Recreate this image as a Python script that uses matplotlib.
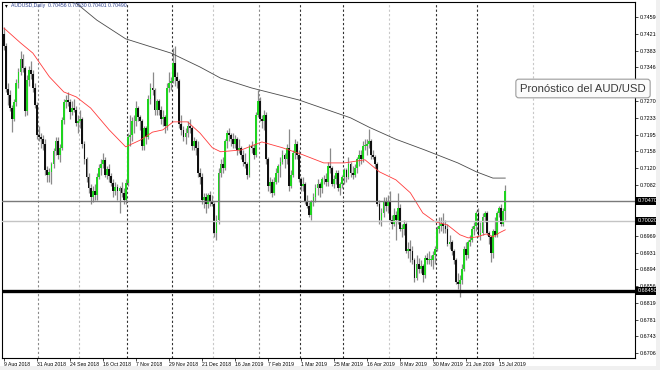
#!/usr/bin/env python3
"""AUD/USD daily candlestick chart (MT4 look) with two moving averages."""

import matplotlib
matplotlib.use("Agg")
import matplotlib.pyplot as plt
import matplotlib.transforms as mtransforms
from matplotlib.patches import Rectangle

plt.rcParams.update({
    "font.family": ["Liberation Sans", "DejaVu Sans"],
    "axes.linewidth": 0.8,
})

# ---- daily bars, 9 Aug 2018 .. 18 Jul 2019 (one entry per trading day) ----
OPENS = [
    0.7420, 0.7393, 0.7298, 0.7285, 0.7255, 0.7230, 0.7268, 0.7310, 0.7335, 0.7365,
    0.7345, 0.7248, 0.7318, 0.7340, 0.7332, 0.7300, 0.7262, 0.7195, 0.7190, 0.7185,
    0.7175, 0.7115, 0.7105, 0.7112, 0.7130, 0.7158, 0.7180, 0.7150, 0.7165, 0.7228,
    0.7268, 0.7272, 0.7268, 0.7245, 0.7255, 0.7250, 0.7222, 0.7225, 0.7230, 0.7175,
    0.7140, 0.7100, 0.7075, 0.7055, 0.7070, 0.7060, 0.7100, 0.7120, 0.7130, 0.7138,
    0.7105, 0.7118, 0.7102, 0.7088, 0.7070, 0.7078, 0.7068, 0.7075, 0.7065, 0.7050,
    0.7088, 0.7190, 0.7195, 0.7225, 0.7225, 0.7255, 0.7235, 0.7225, 0.7170, 0.7210,
    0.7190, 0.7275, 0.7300, 0.7295, 0.7250, 0.7270, 0.7250, 0.7230, 0.7235, 0.7215,
    0.7300, 0.7310, 0.7315, 0.7355, 0.7325, 0.7315, 0.7220, 0.7205, 0.7190, 0.7200,
    0.7215, 0.7210, 0.7170, 0.7180, 0.7165, 0.7110, 0.7100, 0.7050, 0.7055, 0.7040,
    0.7060, 0.7045, 0.7040, 0.6975, 0.7005, 0.7110, 0.7130, 0.7120, 0.7180, 0.7200,
    0.7195, 0.7185, 0.7175, 0.7185, 0.7160, 0.7165, 0.7150, 0.7135, 0.7130, 0.7105,
    0.7170, 0.7165, 0.7150, 0.7240, 0.7270, 0.7230, 0.7225, 0.7240, 0.7140, 0.7080,
    0.7090, 0.7065, 0.7090, 0.7110, 0.7125, 0.7135, 0.7150, 0.7140, 0.7165, 0.7080,
    0.7105, 0.7155, 0.7175, 0.7150, 0.7095, 0.7080, 0.7085, 0.7045, 0.7035, 0.7015,
    0.7045, 0.7055, 0.7075, 0.7085, 0.7075, 0.7095, 0.7095, 0.7090, 0.7125, 0.7120,
    0.7085, 0.7095, 0.7110, 0.7075, 0.7085, 0.7100, 0.7115, 0.7100, 0.7130, 0.7110,
    0.7105, 0.7120, 0.7140, 0.7150, 0.7140, 0.7170, 0.7170, 0.7175, 0.7180, 0.7150,
    0.7145, 0.7130, 0.7040, 0.7005, 0.7020, 0.7045, 0.7035, 0.7045, 0.7005, 0.6995,
    0.7015, 0.7005, 0.7030, 0.6985, 0.6985, 0.6995, 0.6935, 0.6940, 0.6935, 0.6915,
    0.6875, 0.6905, 0.6895, 0.6900, 0.6880, 0.6920, 0.6915, 0.6915, 0.6915, 0.6925,
    0.6940, 0.6985, 0.6990, 0.6995, 0.6990, 0.6985, 0.6950, 0.6955, 0.6935, 0.6915,
    0.6865, 0.6860, 0.6870, 0.6895, 0.6940, 0.6925, 0.6955, 0.6960, 0.6985, 0.6990,
    0.7020, 0.6970, 0.6975, 0.7010, 0.7020, 0.6975, 0.6965, 0.6930, 0.6980, 0.6970,
    0.7020, 0.7030, 0.6995, 0.7025,
]
HIGHS = [
    0.7437, 0.7400, 0.7310, 0.7295, 0.7262, 0.7275, 0.7320, 0.7345, 0.7382, 0.7375,
    0.7350, 0.7330, 0.7350, 0.7360, 0.7340, 0.7310, 0.7268, 0.7215, 0.7200, 0.7195,
    0.7185, 0.7125, 0.7120, 0.7135, 0.7165, 0.7190, 0.7190, 0.7175, 0.7235, 0.7275,
    0.7285, 0.7290, 0.7275, 0.7270, 0.7275, 0.7260, 0.7240, 0.7250, 0.7235, 0.7180,
    0.7145, 0.7110, 0.7085, 0.7080, 0.7085, 0.7110, 0.7130, 0.7140, 0.7155, 0.7145,
    0.7125, 0.7130, 0.7110, 0.7095, 0.7090, 0.7085, 0.7080, 0.7090, 0.7075, 0.7095,
    0.7200, 0.7240, 0.7235, 0.7240, 0.7270, 0.7260, 0.7240, 0.7230, 0.7215, 0.7215,
    0.7285, 0.7310, 0.7335, 0.7300, 0.7275, 0.7275, 0.7260, 0.7250, 0.7240, 0.7310,
    0.7335, 0.7325, 0.7390, 0.7394, 0.7335, 0.7320, 0.7240, 0.7215, 0.7210, 0.7225,
    0.7230, 0.7215, 0.7190, 0.7185, 0.7180, 0.7120, 0.7110, 0.7065, 0.7065, 0.7065,
    0.7070, 0.7060, 0.7045, 0.7015, 0.7120, 0.7140, 0.7145, 0.7185, 0.7205, 0.7210,
    0.7200, 0.7200, 0.7195, 0.7190, 0.7185, 0.7170, 0.7160, 0.7155, 0.7135, 0.7175,
    0.7180, 0.7175, 0.7245, 0.7295, 0.7280, 0.7240, 0.7250, 0.7245, 0.7145, 0.7100,
    0.7095, 0.7100, 0.7120, 0.7130, 0.7145, 0.7160, 0.7155, 0.7175, 0.7207, 0.7115,
    0.7160, 0.7185, 0.7180, 0.7160, 0.7100, 0.7100, 0.7090, 0.7060, 0.7045, 0.7050,
    0.7065, 0.7085, 0.7095, 0.7090, 0.7100, 0.7105, 0.7110, 0.7135, 0.7165, 0.7125,
    0.7105, 0.7115, 0.7115, 0.7090, 0.7105, 0.7120, 0.7120, 0.7145, 0.7135, 0.7125,
    0.7130, 0.7145, 0.7160, 0.7160, 0.7180, 0.7185, 0.7185, 0.7207, 0.7185, 0.7160,
    0.7150, 0.7135, 0.7050, 0.7030, 0.7055, 0.7055, 0.7060, 0.7070, 0.7015, 0.7030,
    0.7025, 0.7065, 0.7040, 0.6995, 0.7005, 0.7000, 0.6955, 0.6960, 0.6945, 0.6920,
    0.6925, 0.6920, 0.6915, 0.6905, 0.6925, 0.6930, 0.6935, 0.6925, 0.6935, 0.6945,
    0.6990, 0.7010, 0.7010, 0.7020, 0.7005, 0.6995, 0.6970, 0.6960, 0.6940, 0.6920,
    0.6885, 0.6880, 0.6905, 0.6945, 0.6955, 0.6960, 0.6970, 0.6990, 0.7000, 0.7025,
    0.7030, 0.7000, 0.7020, 0.7025, 0.7025, 0.6980, 0.6970, 0.6985, 0.7010, 0.7025,
    0.7035, 0.7040, 0.7030, 0.7082,
]
LOWS = [
    0.7385, 0.7292, 0.7262, 0.7248, 0.7202, 0.7225, 0.7260, 0.7300, 0.7330, 0.7335,
    0.7238, 0.7240, 0.7305, 0.7320, 0.7290, 0.7255, 0.7185, 0.7180, 0.7165, 0.7160,
    0.7105, 0.7090, 0.7090, 0.7085, 0.7120, 0.7150, 0.7140, 0.7135, 0.7160, 0.7220,
    0.7255, 0.7260, 0.7230, 0.7240, 0.7245, 0.7215, 0.7200, 0.7210, 0.7165, 0.7130,
    0.7090, 0.7065, 0.7040, 0.7045, 0.7050, 0.7050, 0.7095, 0.7105, 0.7120, 0.7100,
    0.7095, 0.7090, 0.7080, 0.7055, 0.7060, 0.7050, 0.7020, 0.7055, 0.7040, 0.7040,
    0.7080, 0.7170, 0.7180, 0.7200, 0.7215, 0.7225, 0.7205, 0.7160, 0.7160, 0.7175,
    0.7185, 0.7265, 0.7285, 0.7240, 0.7240, 0.7240, 0.7220, 0.7215, 0.7200, 0.7205,
    0.7290, 0.7295, 0.7310, 0.7305, 0.7300, 0.7210, 0.7195, 0.7180, 0.7175, 0.7190,
    0.7200, 0.7160, 0.7160, 0.7150, 0.7100, 0.7085, 0.7040, 0.7030, 0.7020, 0.7030,
    0.7035, 0.7035, 0.6965, 0.6960, 0.6995, 0.7100, 0.7110, 0.7115, 0.7165, 0.7180,
    0.7170, 0.7165, 0.7165, 0.7150, 0.7155, 0.7140, 0.7125, 0.7120, 0.7095, 0.7100,
    0.7155, 0.7140, 0.7145, 0.7235, 0.7225, 0.7210, 0.7205, 0.7130, 0.7070, 0.7065,
    0.7055, 0.7060, 0.7085, 0.7090, 0.7100, 0.7130, 0.7120, 0.7130, 0.7070, 0.7075,
    0.7100, 0.7140, 0.7140, 0.7090, 0.7070, 0.7070, 0.7040, 0.7030, 0.7010, 0.7003,
    0.7035, 0.7045, 0.7060, 0.7055, 0.7065, 0.7085, 0.7080, 0.7080, 0.7110, 0.7080,
    0.7075, 0.7085, 0.7070, 0.7060, 0.7075, 0.7085, 0.7090, 0.7095, 0.7100, 0.7095,
    0.7100, 0.7110, 0.7125, 0.7130, 0.7135, 0.7160, 0.7150, 0.7165, 0.7140, 0.7140,
    0.7120, 0.7035, 0.6995, 0.6990, 0.7010, 0.7025, 0.7020, 0.7000, 0.6985, 0.6990,
    0.6960, 0.6995, 0.6980, 0.6965, 0.6970, 0.6930, 0.6920, 0.6910, 0.6905, 0.6865,
    0.6870, 0.6885, 0.6885, 0.6865, 0.6875, 0.6905, 0.6905, 0.6900, 0.6895, 0.6905,
    0.6935, 0.6975, 0.6980, 0.6975, 0.6975, 0.6945, 0.6940, 0.6925, 0.6905, 0.6860,
    0.6850, 0.6832, 0.6860, 0.6890, 0.6915, 0.6920, 0.6945, 0.6955, 0.6970, 0.6980,
    0.6965, 0.6960, 0.6970, 0.7000, 0.6970, 0.6950, 0.6910, 0.6920, 0.6965, 0.6965,
    0.7010, 0.6990, 0.6990, 0.7005,
]
CLOSES = [
    0.7393, 0.7298, 0.7285, 0.7255, 0.7230, 0.7268, 0.7310, 0.7335, 0.7365, 0.7345,
    0.7248, 0.7318, 0.7340, 0.7332, 0.7300, 0.7262, 0.7195, 0.7190, 0.7185, 0.7175,
    0.7115, 0.7105, 0.7112, 0.7130, 0.7158, 0.7180, 0.7150, 0.7165, 0.7228, 0.7268,
    0.7272, 0.7268, 0.7245, 0.7255, 0.7250, 0.7222, 0.7225, 0.7230, 0.7175, 0.7140,
    0.7100, 0.7075, 0.7055, 0.7070, 0.7060, 0.7100, 0.7120, 0.7130, 0.7138, 0.7105,
    0.7118, 0.7102, 0.7088, 0.7070, 0.7078, 0.7068, 0.7075, 0.7065, 0.7050, 0.7088,
    0.7190, 0.7195, 0.7225, 0.7225, 0.7255, 0.7235, 0.7225, 0.7170, 0.7210, 0.7190,
    0.7275, 0.7300, 0.7295, 0.7250, 0.7270, 0.7250, 0.7230, 0.7235, 0.7215, 0.7300,
    0.7310, 0.7315, 0.7355, 0.7325, 0.7315, 0.7220, 0.7205, 0.7190, 0.7200, 0.7215,
    0.7210, 0.7170, 0.7180, 0.7165, 0.7110, 0.7100, 0.7050, 0.7055, 0.7040, 0.7060,
    0.7045, 0.7040, 0.6975, 0.7005, 0.7110, 0.7130, 0.7120, 0.7180, 0.7200, 0.7195,
    0.7185, 0.7175, 0.7185, 0.7160, 0.7165, 0.7150, 0.7135, 0.7130, 0.7105, 0.7170,
    0.7165, 0.7150, 0.7240, 0.7270, 0.7230, 0.7225, 0.7240, 0.7140, 0.7080, 0.7090,
    0.7065, 0.7090, 0.7110, 0.7125, 0.7135, 0.7150, 0.7140, 0.7165, 0.7080, 0.7105,
    0.7155, 0.7175, 0.7150, 0.7095, 0.7080, 0.7085, 0.7045, 0.7035, 0.7015, 0.7045,
    0.7055, 0.7075, 0.7085, 0.7075, 0.7095, 0.7095, 0.7090, 0.7125, 0.7120, 0.7085,
    0.7095, 0.7110, 0.7075, 0.7085, 0.7100, 0.7115, 0.7100, 0.7130, 0.7110, 0.7105,
    0.7120, 0.7140, 0.7150, 0.7140, 0.7170, 0.7170, 0.7175, 0.7180, 0.7150, 0.7145,
    0.7130, 0.7040, 0.7005, 0.7020, 0.7045, 0.7035, 0.7045, 0.7005, 0.6995, 0.7015,
    0.7005, 0.7030, 0.6985, 0.6985, 0.6995, 0.6935, 0.6940, 0.6935, 0.6915, 0.6875,
    0.6905, 0.6895, 0.6900, 0.6880, 0.6920, 0.6915, 0.6915, 0.6915, 0.6925, 0.6940,
    0.6985, 0.6990, 0.6995, 0.6990, 0.6985, 0.6950, 0.6955, 0.6935, 0.6915, 0.6865,
    0.6860, 0.6870, 0.6895, 0.6940, 0.6925, 0.6955, 0.6960, 0.6985, 0.6990, 0.7020,
    0.6970, 0.6975, 0.7010, 0.7020, 0.6975, 0.6965, 0.6930, 0.6980, 0.6970, 0.7020,
    0.7030, 0.6995, 0.7025, 0.7070,
]

# moving averages (bar index, price)
RED_MA_BARS = [0, 8, 14, 22, 29, 35, 42, 51, 59, 66, 72, 77, 82, 89, 95, 101, 105,
               115, 125, 135, 145, 155, 165, 175, 182, 190, 197, 203, 209, 215, 221,
               225, 229, 234, 237, 240, 243]
RED_MA_VALUES = [0.7434, 0.7401, 0.7378, 0.7325, 0.7291, 0.7280, 0.7255, 0.7206,
                 0.7168, 0.7183, 0.7201, 0.7206, 0.7224, 0.7224, 0.7199, 0.7166,
                 0.7157, 0.7161, 0.7179, 0.7166, 0.7150, 0.7132, 0.7132, 0.7139,
                 0.7112, 0.7094, 0.7065, 0.7020, 0.7000, 0.6993, 0.6971, 0.6964,
                 0.6966, 0.6973, 0.6966, 0.6975, 0.6982]
BLACK_MA_BARS = [28, 35, 45, 59, 81, 95, 105, 120, 143, 168, 177, 190, 204, 220,
                 229, 237, 243]
BLACK_MA_VALUES = [0.7510, 0.7490, 0.7452, 0.7410, 0.7378, 0.7347, 0.7322, 0.7300,
                   0.7273, 0.7233, 0.7212, 0.7185, 0.7161, 0.7132, 0.7112, 0.7098,
                   0.7098]

DATE_LABELS = ["9 Aug 2018", "31 Aug 2018", "24 Sep 2018", "16 Oct 2018",
               "7 Nov 2018", "29 Nov 2018", "21 Dec 2018", "16 Jan 2019",
               "7 Feb 2019", "1 Mar 2019", "25 Mar 2019", "16 Apr 2019",
               "8 May 2019", "30 May 2019", "21 Jun 2019", "15 Jul 2019"]
DATE_BARS = [0, 16, 32, 48, 64, 80, 96, 112, 128, 144, 160, 176, 192, 208, 224, 240]

# month separators (between bars)
SEPARATOR_BARS = [16.5, 36.5, 59.5, 81.5, 101.5, 123.5, 143.5, 164.5, 186.5,
                  209.5, 229.5, 256.5]
SEPARATOR_SHADES = ["#8a8a8a", "#bdbdbd", "#303030", "#303030", "#c8c8c8", "#8a8a8a",
                    "#303030", "#303030", "#c8c8c8", "#303030", "#303030", "#c8c8c8"]

PRICE_TICKS = [0.7459, 0.7421, 0.7383, 0.7346, 0.7308, 0.7270, 0.7233, 0.7195,
               0.7158, 0.7120, 0.7082, 0.7044, 0.7007, 0.6969, 0.6931, 0.6894,
               0.6856, 0.6819, 0.6781, 0.6743, 0.6706]
# price label that the terminal hides behind the callout box
HIDDEN_TICKS = [0.7308]

# horizontal levels drawn on the chart
LEVELS = [0.7047, 0.7002, 0.6845]
LEVEL_COLORS = ["#7a7a7a", "#c4c4c4", "#000000"]
LEVEL_WIDTHS = [1.0, 1.0, 2.4]

HEADER = "AUDUSD,Daily  0.70456 0.70530 0.70401 0.70490"
CALLOUT = "Pronóstico del AUD/USD"


def main():
    W, H = 660, 370
    fig = plt.figure(figsize=(W / 100, H / 100), dpi=100)
    fig.patch.set_facecolor("white")

    # window chrome strips at bottom and right
    fig.add_artist(Rectangle((0, 0), 1, 4 / H, transform=fig.transFigure,
                             facecolor="#f0f0f0", edgecolor="none"))
    fig.add_artist(Rectangle((656 / W, 0), 4 / W, 1, transform=fig.transFigure,
                             facecolor="#f0f0f0", edgecolor="none"))

    ax = fig.add_axes([2 / W, 12 / H, 633 / W, 356 / H])
    ax.set_facecolor("white")
    ax.set_xlim(-0.97, 305.9)
    ax.set_ylim(0.66948, 0.74926)

    for xb, shade in zip(SEPARATOR_BARS, SEPARATOR_SHADES):
        ax.axvline(xb, color=shade, lw=0.8, ls=(0, (2, 2)), zorder=1)

    n = len(CLOSES)
    xs = list(range(n))
    ax.vlines(xs, LOWS, HIGHS, color="#8a8a8a", lw=0.9, zorder=2)
    bottoms = [min(o, c) for o, c in zip(OPENS, CLOSES)]
    heights = [max(abs(c - o), 0.00012) for o, c in zip(OPENS, CLOSES)]
    colors = ["#1fd41f" if c >= o else "#101010" for o, c in zip(OPENS, CLOSES)]
    ax.bar(xs, heights, bottom=bottoms, width=0.88, color=colors,
           linewidth=0, zorder=3)

    ax.plot(BLACK_MA_BARS, BLACK_MA_VALUES, color="#4a4a4a", lw=0.6, zorder=4)
    ax.plot(RED_MA_BARS, RED_MA_VALUES, color="#ff3b3b", lw=0.6, zorder=4)

    for lvl, col, lw in zip(LEVELS, LEVEL_COLORS, LEVEL_WIDTHS):
        ax.axhline(lvl, color=col, lw=lw, zorder=5)

    # axes styling: frame, price scale on the right, dates below
    for sp in ax.spines.values():
        sp.set_color("black")
        sp.set_linewidth(0.8)
    ax.yaxis.tick_right()
    ax.set_yticks(PRICE_TICKS)
    # labels sitting under a level box or the callout are hidden in the terminal
    ylabels = []
    for v in PRICE_TICKS:
        covered = min(abs(v - l) for l in LEVELS) < 0.0006 or v in HIDDEN_TICKS
        ylabels.append("" if covered else f"{v:.5f}")
    ax.set_yticklabels(ylabels, fontsize=3.9)
    ax.tick_params(axis="y", length=2, width=0.5, pad=1.2, colors="black")
    ax.set_xticks(DATE_BARS)
    ax.set_xticklabels(DATE_LABELS, fontsize=3.7, ha="left")
    ax.tick_params(axis="x", length=2, width=0.5, pad=1.0, colors="black")

    trans = mtransforms.blended_transform_factory(ax.transAxes, ax.transData)
    for lvl in LEVELS:
        ax.text(1.004, lvl, f"{lvl:.5f}", transform=trans, ha="left", va="center",
                fontsize=3.9, color="white", zorder=10, clip_on=False,
                bbox=dict(boxstyle="square,pad=0.25", facecolor="black",
                          edgecolor="none"))

    fig.text(5 / W, 1 - 6 / H, "\u25be", fontsize=4, color="black",
             ha="left", va="center")
    fig.text(11 / W, 1 - 6 / H, HEADER, fontsize=3.7, color="#2b3f8c",
             ha="left", va="center")

    fig.text(583 / W, 1 - 88.5 / H, CALLOUT, fontsize=8.2, color="#3a3a3a",
             ha="center", va="center", zorder=20,
             bbox=dict(boxstyle="round,pad=0.38,rounding_size=0.25",
                       facecolor="#fbfbfb", edgecolor="#9c9c9c", linewidth=0.8))

    fig.savefig("out.png", dpi=100)
    plt.close(fig)


if __name__ == "__main__":
    main()
